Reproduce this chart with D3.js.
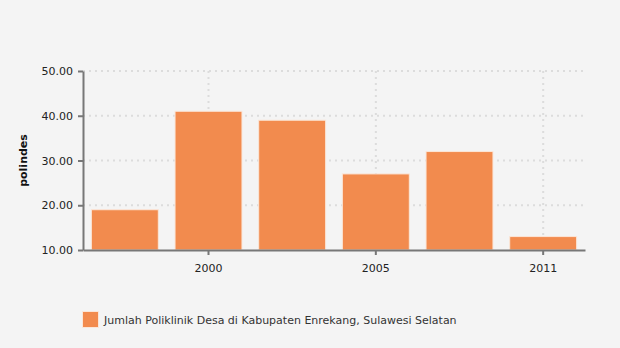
<!DOCTYPE html>
<html>
<head>
    <meta charset="utf-8" />
    <script src="https://d3js.org/d3.v7.min.js"></script>
    <style>
        body { margin: 0; background: #f4f4f4; }
        svg { display: block; font-family: "DejaVu Sans", Verdana, sans-serif; }
    </style>
</head>
<body>
    <svg id="chart" width="620" height="348"></svg>
<script>
    // chart data
    const years = ["1998", "2000", "2003", "2005", "2008", "2011"];
    const shownYears = ["2000", "2005", "2011"];
    const polindes = [19, 41, 39, 27, 32, 13];
    const yTicks = [10, 20, 30, 40, 50];
    const seriesName = "Jumlah Poliklinik Desa di Kabupaten Enrekang, Sulawesi Selatan";

    const width = 620;
    const height = 348;
    const margin = { top: 71, right: 35, bottom: 98, left: 83 };
    const innerWidth = width - margin.left - margin.right;
    const innerHeight = height - margin.top - margin.bottom;

    const svg = d3.select("#chart");
    svg.append("rect").attr("width", width).attr("height", height).attr("fill", "#f4f4f4");

    const g = svg.append("g").attr("transform", `translate(${margin.left},${margin.top})`);

    const xScale = d3.scaleBand()
        .domain(years)
        .range([0, innerWidth])
        .paddingInner(0.2)
        .paddingOuter(0.1);

    const yScale = d3.scaleLinear()
        .domain([10, 50])
        .range([innerHeight, 0]);

    // grid lines
    g.append("g")
        .selectAll("line")
        .data(yTicks.slice(1))
        .enter().append("line")
        .attr("x1", 0)
        .attr("x2", innerWidth)
        .attr("y1", d => yScale(d))
        .attr("y2", d => yScale(d))
        .attr("stroke", "#dcdcdc")
        .attr("stroke-width", 2)
        .attr("stroke-dasharray", "2,4");

    g.append("g")
        .selectAll("line")
        .data(shownYears)
        .enter().append("line")
        .attr("x1", d => xScale(d) + xScale.bandwidth() / 2)
        .attr("x2", d => xScale(d) + xScale.bandwidth() / 2)
        .attr("y1", 0)
        .attr("y2", innerHeight)
        .attr("stroke", "#dcdcdc")
        .attr("stroke-width", 2)
        .attr("stroke-dasharray", "2,4");

    // bars
    g.selectAll(".bar")
        .data(polindes)
        .enter().append("rect")
        .attr("class", "bar")
        .attr("x", (d, i) => xScale(years[i]))
        .attr("y", d => yScale(d))
        .attr("width", xScale.bandwidth())
        .attr("height", d => innerHeight - yScale(d))
        .attr("fill", "#f28b4e")
        .attr("stroke", "#fbe6d8")
        .attr("stroke-width", 1);

    // axes
    const xAxis = d3.axisBottom(xScale)
        .tickValues(shownYears)
        .tickSize(5)
        .tickSizeOuter(0);

    const yAxis = d3.axisLeft(yScale)
        .tickValues(yTicks)
        .tickFormat(d3.format(".2f"))
        .tickSize(5)
        .tickSizeOuter(0);

    const xg = g.append("g")
        .attr("transform", `translate(0,${innerHeight})`)
        .call(xAxis);

    const yg = g.append("g").call(yAxis);

    [xg, yg].forEach(a => {
        a.select(".domain").attr("stroke", "#777").attr("stroke-width", 2);
        a.selectAll(".tick line").attr("stroke", "#777").attr("stroke-width", 2);
        a.selectAll(".tick text")
            .attr("fill", "#222")
            .style("font-size", "11px")
            .style("font-family", "DejaVu Sans, Verdana, sans-serif");
    });
    xg.selectAll(".tick text").attr("dy", "1.3em");
    yg.selectAll(".tick text").attr("x", -10);

    // y label
    svg.append("text")
        .attr("transform", `translate(27,${margin.top + innerHeight / 2}) rotate(-90)`)
        .style("text-anchor", "middle")
        .style("font-size", "11px")
        .style("font-weight", "bold")
        .attr("fill", "#111")
        .text("polindes");

    // legend
    svg.append("rect")
        .attr("x", 82.5)
        .attr("y", 311.5)
        .attr("width", 16)
        .attr("height", 16)
        .attr("fill", "#f28b4e")
        .attr("stroke", "#fbe6d8");

    svg.append("text")
        .attr("x", 104)
        .attr("y", 324)
        .style("font-size", "11px")
        .attr("fill", "#333")
        .text(seriesName);
</script>
</body>
</html>
